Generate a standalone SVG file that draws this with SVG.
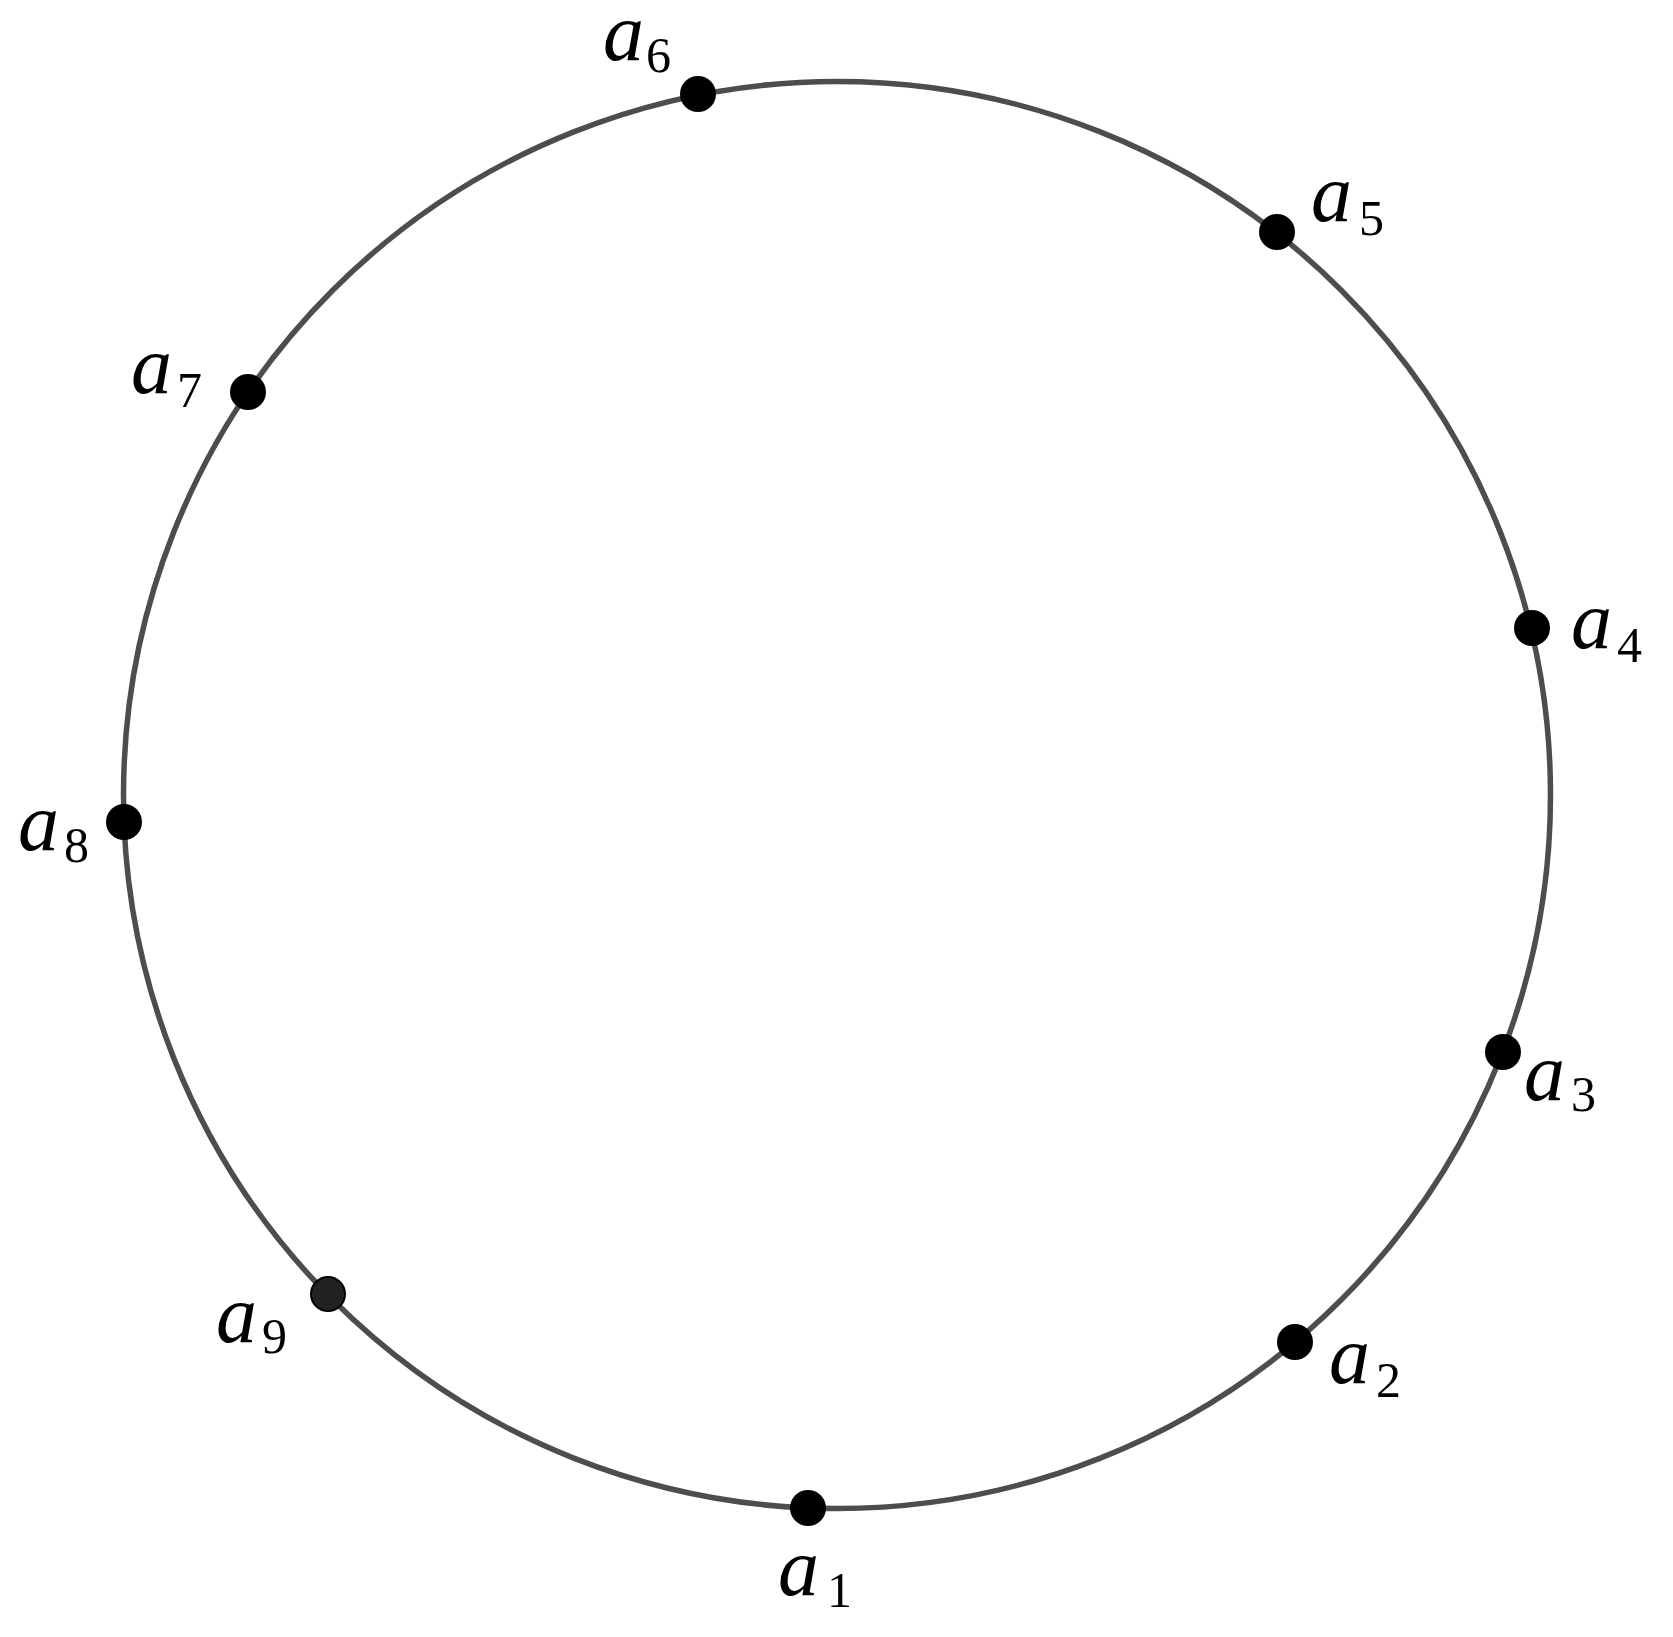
<svg xmlns="http://www.w3.org/2000/svg" width="1673" height="1637" viewBox="0 0 1673 1637">
<style>
.ring{fill:none;stroke:#4d4d4d;stroke-width:5.5}
.dot{fill:#000}
.v{font-family:"Liberation Serif","DejaVu Serif",serif;font-style:italic;font-size:82px;fill:#000}
.s{font-family:"Liberation Serif","DejaVu Serif",serif;font-size:50px;fill:#000}
</style>
<rect width="1673" height="1637" fill="#fff"/>
<g id="connectors">
<circle class="ring" cx="837" cy="795" r="713.5"/>
</g>
<g id="a1"><circle class="dot" cx="808" cy="1508" r="18"/><text class="v" x="778" y="1595">a</text><text class="s" x="827" y="1607">1</text></g>
<g id="a2"><circle class="dot" cx="1295" cy="1342" r="18"/><text class="v" x="1329" y="1383">a</text><text class="s" x="1376" y="1397">2</text></g>
<g id="a3"><circle class="dot" cx="1503" cy="1052" r="18"/><text class="v" x="1524" y="1100">a</text><text class="s" x="1571" y="1111">3</text></g>
<g id="a4"><circle class="dot" cx="1532" cy="628" r="18"/><text class="v" x="1571" y="648">a</text><text class="s" x="1617" y="662">4</text></g>
<g id="a5"><circle class="dot" cx="1277" cy="232" r="18"/><text class="v" x="1311" y="221">a</text><text class="s" x="1359" y="235">5</text></g>
<g id="a6"><circle class="dot" cx="698" cy="94" r="18"/><text class="v" x="603" y="60">a</text><text class="s" x="646" y="72">6</text></g>
<g id="a7"><circle class="dot" cx="248" cy="392" r="18"/><text class="v" x="131" y="393">a</text><text class="s" x="177" y="407">7</text></g>
<g id="a8"><circle class="dot" cx="124" cy="822" r="18"/><text class="v" x="18" y="850">a</text><text class="s" x="64" y="862">8</text></g>
<g id="a9"><circle cx="328" cy="1294" r="17" fill="#222" stroke="#000" stroke-width="2"/><text class="v" x="216" y="1342">a</text><text class="s" x="262" y="1353">9</text></g>
</svg>
